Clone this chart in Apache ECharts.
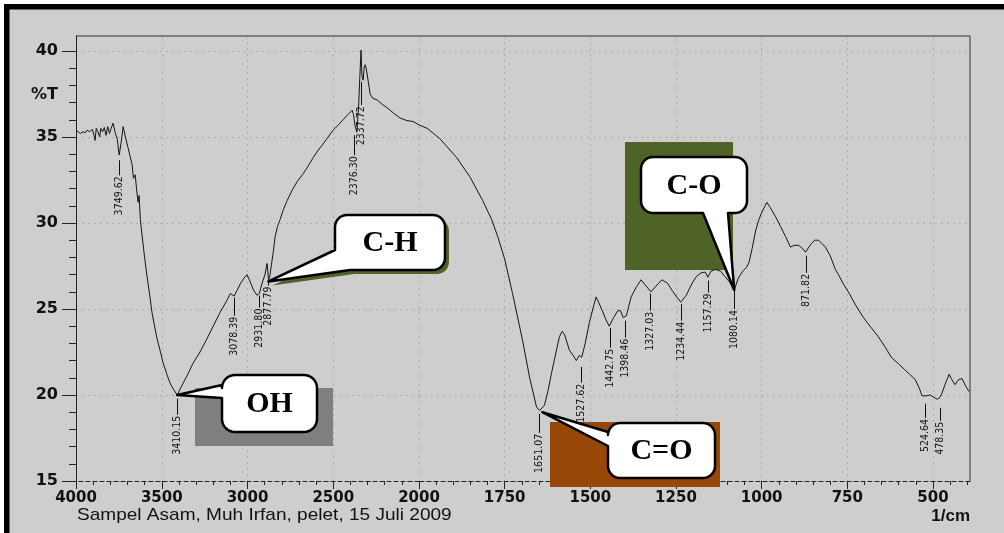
<!DOCTYPE html>
<html><head><meta charset="utf-8">
<script src="https://cdn.jsdelivr.net/npm/echarts@6/dist/echarts.min.js"></script>
<style>html,body{margin:0;padding:0;background:#cecece}#c{width:1004px;height:533px}</style>
</head><body><div id="c"></div><script>
// ---- data ----
const spectrumHigh = [[4000,35.4],[3990,35.35],[3975,35.2],[3960,35.3],[3945,35.25],[3935,35.4],[3920,35.3],[3905,35.45],[3895,35.1],[3889,34.8],[3882,35.5],[3872,35.3],[3862,35.0],[3855,35.5],[3845,35.3],[3835,35.55],[3825,35.1],[3815,35.6],[3805,35.2],[3795,35.5],[3784,35.8],[3770,35.2],[3760,34.9],[3748,33.95],[3738,34.6],[3725,35.6],[3712,35.0],[3697,34.4],[3685,33.9],[3673,33.4],[3665,32.6],[3655,32.8],[3645,31.8],[3638,31.2],[3632,31.6],[3625,30.2],[3615,29.3],[3600,28.0],[3586,26.9],[3570,25.8],[3557,24.8],[3540,23.9],[3528,23.3],[3510,22.6],[3493,21.9],[3470,21.2],[3452,20.7],[3430,20.3],[3410,20.0],[3395,20.3],[3375,20.7],[3353,21.1],[3320,21.8],[3277,22.5],[3240,23.2],[3200,24.0],[3160,24.8],[3120,25.5],[3100,25.9],[3090,25.8],[3078,25.75],[3060,26.1],[3040,26.5],[3020,26.8],[3003,27.0],[2985,26.6],[2965,26.1],[2945,25.8],[2931,25.9],[2915,26.5],[2898,27.0],[2886,27.65],[2880,27.0],[2877,26.7],[2870,26.9],[2860,27.6],[2850,28.3],[2839,29.2],[2825,29.8],[2810,30.2],[2790,30.8],[2769,31.3],[2740,31.9],[2711,32.4],[2680,32.8],[2653,33.2],[2617,33.8],[2590,34.2],[2559,34.6],[2530,35.0],[2501,35.4],[2470,35.7],[2443,36.0],[2415,36.3],[2390,36.55],[2382,36.3],[2372,35.6],[2362,35.3],[2352,36.8],[2345,38.5],[2338,40.05],[2333,38.6],[2326,38.3],[2320,39.0],[2314,39.2],[2308,39.0],[2297,38.3],[2285,37.5],[2270,37.25],[2244,37.15],[2215,36.9],[2186,36.7],[2150,36.4],[2110,36.1],[2070,35.95],[2034,35.9],[2000,35.7]];
const spectrumLow = [[2000,35.7],[1976,35.5],[1939,34.9],[1890,33.8],[1852,32.7],[1814,31.3],[1788,30.2],[1770,29.2],[1750,27.9],[1727,25.9],[1698,23.2],[1677,21.0],[1657,19.3],[1648,19.1],[1634,19.4],[1624,20.2],[1613,21.3],[1600,22.5],[1590,23.4],[1582,23.7],[1575,23.5],[1561,22.6],[1550,22.3],[1541,22.0],[1532,22.3],[1525,22.2],[1515,23.0],[1503,24.2],[1490,25.2],[1483,25.7],[1476,25.4],[1465,24.9],[1455,24.4],[1445,24.0],[1432,24.5],[1420,24.9],[1412,24.9],[1404,24.5],[1395,24.6],[1381,25.7],[1365,26.3],[1352,26.7],[1340,26.4],[1323,26.0],[1305,26.4],[1291,26.7],[1275,26.5],[1262,26.1],[1248,25.7],[1236,25.4],[1220,25.8],[1203,26.5],[1190,26.9],[1177,27.1],[1165,27.15],[1157,26.85],[1148,27.2],[1135,27.3],[1120,27.2],[1108,26.9],[1095,26.6],[1080,26.1],[1068,26.8],[1055,27.2],[1045,27.4],[1037,27.7],[1028,28.5],[1017,29.6],[1008,30.2],[1000,30.6],[990,31.0],[985,31.2],[975,30.9],[959,30.35],[945,29.8],[930,29.2],[916,28.6],[905,28.7],[892,28.7],[880,28.5],[872,28.3],[862,28.6],[855,28.8],[845,29.0],[834,29.0],[824,28.8],[814,28.6],[800,28.1],[785,27.3],[776,27.0],[760,26.4],[747,26.0],[725,25.2],[703,24.5],[680,23.9],[660,23.4],[640,22.8],[622,22.2],[600,21.8],[584,21.5],[568,21.2],[552,20.9],[540,20.4],[532,19.95],[520,19.95],[508,20.0],[500,19.9],[488,19.75],[480,19.85],[474,20.1],[465,20.6],[453,21.2],[445,20.9],[436,20.6],[425,20.9],[415,20.95],[404,20.5],[395,20.2]];

const peakWavenumber = [3749.62,3410.15,3078.39,2931.80,2877.79,2376.30,2337.72,1651.07,1527.62,1442.75,1398.46,1327.03,1234.44,1157.29,1080.14,871.82,524.64,478.35];
const peakText = ['3749.62','3410.15','3078.39','2931.80','2877.79','2376.30','2337.72','1651.07','1527.62','1442.75','1398.46','1327.03','1234.44','1157.29','1080.14','871.82','524.64','478.35'];
const peakLeaderT = [33.65,19.78,25.66,25.78,26.6,35.1,38.2,18.9,21.64,23.9,24.32,25.9,25.3,26.65,26.07,28.1,19.5,19.25];
const peakLabelT = [32.77,18.85,24.61,25.08,26.36,33.94,36.85,17.8,20.71,22.75,23.33,24.9,24.32,25.96,25.0,27.1,18.67,18.5];

const calloutText = ['OH','C-H','C=O','C-O'];
const calloutWavenumber = [3410.15, 2877.79, 1640, 1080.14];
const calloutT = [20.0, 26.6, 19.0, 26.1];

const yMajorTicks = [15,20,25,30,35,40];
const yMinorTicks = [16,17,18,19,21,22,23,24,26,27,28,29,31,32,33,34,36,37,38,39];
const xMajorTicksLow = [500,750,1000,1250,1500,1750];
const xMinorTicksLow = [1950,1900,1850,1800,1700,1650,1600,1550,1450,1400,1350,1300,1200,1150,1100,1050,950,900,850,800,700,650,600,550,450,400];

// ---- chart ----
const Y_MIN = 15, Y_MAX = 40.87;
const chart = echarts.init(document.getElementById('c'), null, {renderer:'canvas', width:1004, height:533});
const xTickFont = {fontFamily:'"DejaVu Sans", Verdana, sans-serif', fontSize:15, fontWeight:'bold', color:'#111', formatter:v => String(v)};
const yTickFont = {fontFamily:'"DejaVu Sans", Verdana, sans-serif', fontSize:16, fontWeight:'bold', color:'#111', formatter:v => String(v)};
const split = {show:true, lineStyle:{color:'rgba(110,110,110,0.35)', type:[2,4], width:1}};
const axisLineStyle = {color:'#222', width:1};
const labelFont = '10.5px "Liberation Sans Narrow", "DejaVu Sans Condensed", "Liberation Sans", sans-serif';

function peakItems(filter) {
  const out = [];
  peakWavenumber.forEach((w, i) => { if (filter(w)) out.push([w, peakLeaderT[i], peakLabelT[i], i]); });
  return out;
}
function renderPeak(params, api) {
  const i = api.value(3);
  const p0 = api.coord([api.value(0), api.value(1)]);
  const p1 = api.coord([api.value(0), api.value(2)]);
  const x = Math.round(p0[0]) + 0.5;
  return {type:'group', children:[
    {type:'line', shape:{x1:x, y1:p0[1], x2:x, y2:p1[1]}, style:{stroke:'#111', lineWidth:1}},
    {type:'text', x:x, y:p1[1] + 1, rotation:Math.PI/2,
     style:{text:peakText[i], font:labelFont, fill:'#111', align:'right', verticalAlign:'middle', textAlign:'right', textVerticalAlign:'middle'}}
  ]};
}

const option = {
  animation:false,
  backgroundColor:'#cecece',
  grid:[{left:76, top:36, width:343, height:445}, {left:419, top:36, width:551, height:445}],
  xAxis:[
    {gridIndex:0, type:'value', position:'bottom', inverse:true, min:2000, max:4000, interval:500,
     axisLine:{show:true, lineStyle:{color:'#222', width:1, type:[4,3]}},
     axisTick:{show:true, inside:false, length:8, lineStyle:axisLineStyle},
     minorTick:{show:true, splitNumber:5, length:4, lineStyle:axisLineStyle},
     axisLabel:Object.assign({margin:10}, xTickFont), splitLine:split},
    {gridIndex:1, type:'value', position:'bottom', inverse:true, min:392, max:2000,
     axisLine:{show:true, lineStyle:{color:'#222', width:1, type:[4,3]}},
     axisTick:{show:true, inside:false, length:8, lineStyle:axisLineStyle, customValues:xMajorTicksLow},
     axisLabel:Object.assign({margin:10, customValues:xMajorTicksLow}, xTickFont), splitLine:split},
    {gridIndex:1, type:'value', position:'bottom', inverse:true, min:392, max:2000,
     axisLine:{show:false}, axisTick:{show:true, length:4, lineStyle:axisLineStyle, customValues:xMinorTicksLow},
     axisLabel:{show:false}, splitLine:{show:false}}
  ],
  yAxis:[
    {gridIndex:0, type:'value', position:'left', min:Y_MIN, max:Y_MAX,
     axisLine:{show:true, lineStyle:axisLineStyle},
     axisTick:{show:true, length:14, lineStyle:axisLineStyle, customValues:yMajorTicks},
     axisLabel:Object.assign({margin:18, customValues:yMajorTicks}, yTickFont), splitLine:split},
    {gridIndex:1, type:'value', position:'left', min:Y_MIN, max:Y_MAX,
     axisLine:{show:false}, axisTick:{show:false, customValues:yMajorTicks},
     axisLabel:{show:false, customValues:yMajorTicks}, splitLine:split},
    {gridIndex:0, type:'value', position:'left', min:Y_MIN, max:Y_MAX,
     axisLine:{show:false}, axisTick:{show:true, length:7, lineStyle:axisLineStyle, customValues:yMinorTicks},
     axisLabel:{show:false}, splitLine:{show:false}}
  ],
  series:[
    {type:'line', xAxisIndex:0, yAxisIndex:0, data:spectrumHigh, symbol:'none', silent:true, z:3,
     lineStyle:{color:'#141414', width:1}},
    {type:'line', xAxisIndex:1, yAxisIndex:1, data:spectrumLow, symbol:'none', silent:true, z:3,
     lineStyle:{color:'#141414', width:1}},
    {type:'custom', xAxisIndex:0, yAxisIndex:0, data:peakItems(w => w >= 2000), renderItem:renderPeak, silent:true, z:4, encode:{x:0, y:1}},
    {type:'custom', xAxisIndex:1, yAxisIndex:1, data:peakItems(w => w < 2000), renderItem:renderPeak, silent:true, z:4, encode:{x:0, y:1}}
  ]
};
chart.setOption(option);

// ---- decorations ----
function toPx(w, t) {
  return w >= 2000 ? chart.convertToPixel({xAxisIndex:0, yAxisIndex:0}, [w, t])
                   : chart.convertToPixel({xAxisIndex:1, yAxisIndex:1}, [w, t]);
}
function arc(pts, cx, cy, r, a0, a1) {
  const n = 8;
  for (let k = 0; k <= n; k++) {
    const a = (a0 + (a1 - a0) * k / n) * Math.PI / 180;
    pts.push([cx + r * Math.cos(a), cy + r * Math.sin(a)]);
  }
}
function calloutPoints(b, tip) {
  const {x, y, w, h, r} = b; const pts = [];
  arc(pts, x + r, y + r, r, 180, 270);
  arc(pts, x + w - r, y + r, r, 270, 360);
  arc(pts, x + w - r, y + h - r, r, 0, 90);
  if (b.side === 'bottom') { pts.push([b.p2, y + h], tip, [b.p1, y + h]); }
  if (b.side === 'bottomleft') { pts.push([b.p1, y + h], tip, [x, b.p2]); return pts; }
  arc(pts, x + r, y + h - r, r, 90, 180);
  if (b.side === 'left') { pts.push([x, b.p2], tip, [x, b.p1]); }
  return pts;
}
const calloutBoxes = [
  {x:222, y:375, w:95, h:57, r:13, side:'left', p1:385, p2:398, back:{x:195, y:388, w:138, h:58, fill:'#7f7f7f'}},
  {x:335, y:215, w:110, h:55, r:12, side:'bottomleft', p1:350, p2:250, shadow:'#4f6228'},
  {x:608, y:423, w:107, h:55, r:12, side:'left', p1:432, p2:446, back:{x:550, y:422, w:170, h:65, fill:'#974806'}},
  {x:641, y:157, w:106, h:56, r:12, side:'bottom', p1:703, p2:728, back:{x:625, y:142, w:108, h:128, fill:'#4f6228'}}
];

const g = [];
g.push({type:'rect', shape:{x:0, y:0, width:1004, height:4}, style:{fill:'#ffffff'}, z:50, silent:true});
g.push({type:'rect', shape:{x:0, y:0, width:4, height:533}, style:{fill:'#ffffff'}, z:50, silent:true});
g.push({type:'rect', shape:{x:4, y:4, width:1000, height:5.5}, style:{fill:'#000'}, z:50, silent:true});
g.push({type:'rect', shape:{x:4, y:4, width:5.5, height:529}, style:{fill:'#000'}, z:50, silent:true});
const tl = toPx(4000, Y_MAX), tr = toPx(392, Y_MAX), br = toPx(392, Y_MIN);
g.push({type:'polyline', shape:{points:[tl, tr, br]}, style:{stroke:'#333', lineWidth:1, fill:null}, z:5, silent:true});
g.push({type:'text', x:58, y:95, style:{text:'%T', font:'bold 16px "DejaVu Sans", Verdana, sans-serif', fill:'#111', align:'right', verticalAlign:'middle', textAlign:'right', textVerticalAlign:'middle'}, z:10});
g.push({type:'text', x:77, y:515, scaleX:1.12, style:{text:'Sampel Asam, Muh Irfan, pelet, 15 Juli 2009', font:'17px "Liberation Sans", Arial, sans-serif', fill:'#111', align:'left', verticalAlign:'middle', textAlign:'left', textVerticalAlign:'middle'}, z:10});
g.push({type:'text', x:970, y:516, style:{text:'1/cm', font:'bold 17px "Liberation Sans", Arial, sans-serif', fill:'#111', align:'right', verticalAlign:'middle', textAlign:'right', textVerticalAlign:'middle'}, z:10});
calloutBoxes.forEach((b, i) => {
  const tip = toPx(calloutWavenumber[i], calloutT[i]);
  if (b.back) g.push({type:'rect', shape:{x:b.back.x, y:b.back.y, width:b.back.w, height:b.back.h}, style:{fill:b.back.fill}, z:1, silent:true});
  const pts = calloutPoints(b, tip);
  if (b.shadow) g.push({type:'polygon', shape:{points:pts.map(p => [p[0] + 4, p[1] + 4])}, style:{fill:b.shadow}, z:20, silent:true});
  g.push({type:'polygon', shape:{points:pts}, style:{fill:'#ffffff', stroke:'#000', lineWidth:2.5, lineJoin:'round'}, z:21, silent:true});
  g.push({type:'text', x:b.x + b.w / 2, y:b.y + b.h / 2 + 1, style:{text:calloutText[i], font:'bold 30px "Liberation Serif", "Times New Roman", serif', fill:'#000', align:'center', verticalAlign:'middle', textAlign:'center', textVerticalAlign:'middle'}, z:22, silent:true});
});
chart.setOption({graphic:{elements:g}});
</script></body></html>
